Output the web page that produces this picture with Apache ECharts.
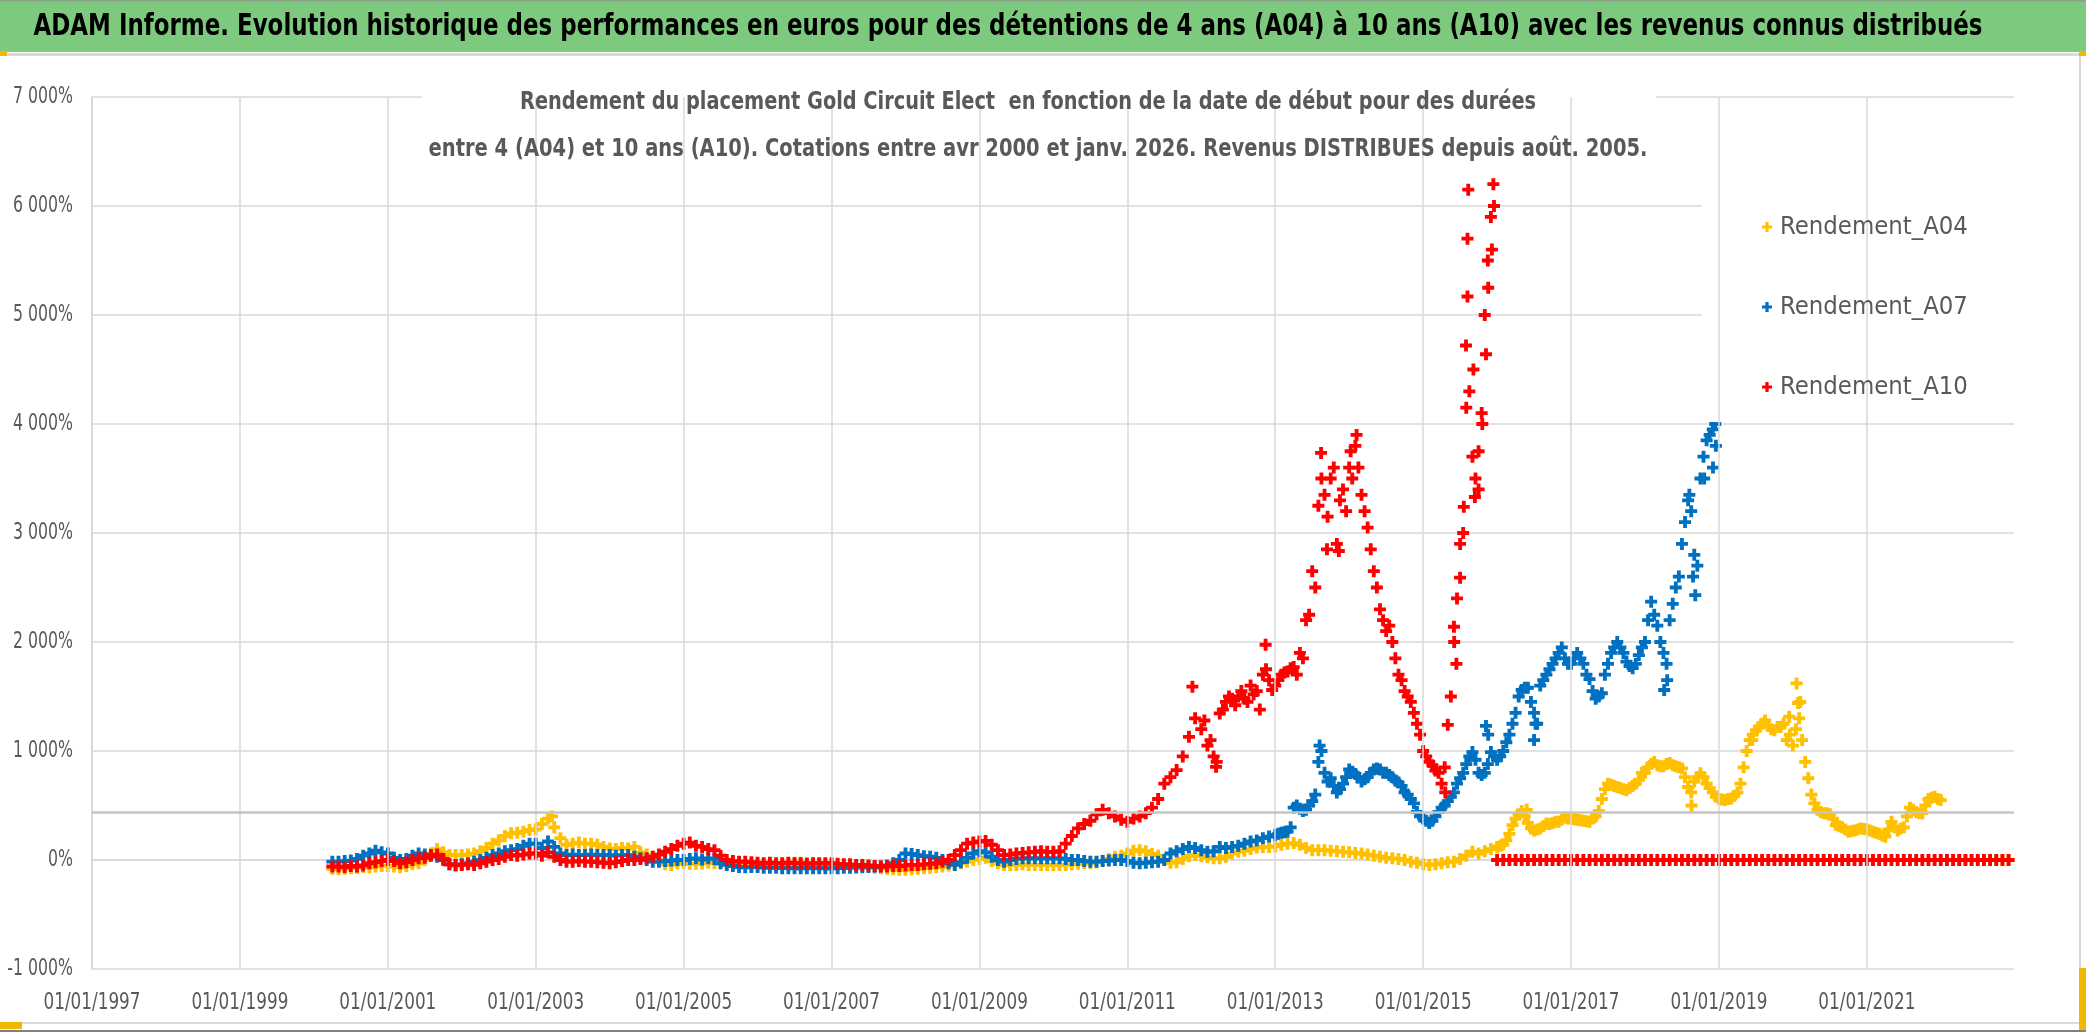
<!DOCTYPE html>
<html><head><meta charset="utf-8">
<script src="https://cdn.jsdelivr.net/npm/echarts@6/dist/echarts.min.js"></script>
<style>html,body{margin:0;padding:0;background:#fff;}#c{width:2086px;height:1032px;}</style>
</head><body><div id="c"></div>
<script>
const FONT = "'DejaVu Sans Condensed','DejaVu Sans',sans-serif";
const mainTitle = 'ADAM Informe. Evolution historique des performances en euros pour des détentions de 4 ans (A04) à 10 ans (A10) avec les revenus connus distribués';
const subTitle1 = 'Rendement du placement Gold Circuit Elect  en fonction de la date de début pour des durées';
const subTitle2 = 'entre 4 (A04) et 10 ans (A10). Cotations entre avr 2000 et janv. 2026. Revenus DISTRIBUES depuis août. 2005.';
const seriesNames = ['Rendement_A04', 'Rendement_A07', 'Rendement_A10'];
const seriesColors = ['#FFC000', '#0070C0', '#FF0000'];

// monthly readings (1st of month): first value = April 2000
const startYear = 2000, startMonth = 4;

// Rendement_A04 (%), monthly from Apr 2000
const A04 = [
  -80,-85,-80,-75,-70,-65,-67,-60,-55,
  -55,-60,-67,-55,-40,-30,0,60,100,70,45,45,
  45,50,60,80,110,150,180,220,245,250,260,275,
  280,330,380,300,200,140,150,160,150,150,140,120,
  105,100,110,105,120,70,50,30,0,-40,-45,-30,
  -30,-35,-35,-30,-25,-30,-30,-30,-30,-35,-40,-45,
  -45,-45,-40,-40,-35,-30,-25,-25,-30,-35,-40,-45,
  -45,-45,-50,-50,-55,-55,-60,-70,-75,-80,-85,-90,
  -90,-85,-80,-75,-70,-65,-60,-50,-40,-30,-15,0,
  10,20,-10,-30,-45,-45,-45,-40,-45,-45,-45,-45,
  -45,-45,-45,-40,-35,-30,-30,-20,-10,10,30,40,
  60,85,90,80,55,40,0,-25,-20,10,35,45,
  35,25,15,15,30,60,76,85,100,115,120,120,
  125,140,150,155,140,110,90,90,90,85,80,75,
  70,65,60,50,40,30,20,15,10,0,-15,-25,
  -40,-45,-40,-30,-20,-15,10,40,76,60,80,100,
  120,140,240,380,450,340,270,290,336,340,350,390,
  380,370,360,350,400,560,700,680,660,640,680,735,
  800,880,870,860,890,860,840,670,720,795,700,620,
  560,550,565,620,850,1100,1190,1250,1230,1190,1220,1100,
  1050,1300,900,600,460,430,420,320,300,260,270,290,
  280,260,240,214,350,270,300,480,440,430,560,580,
  550,0,0,0,0,0,0,0,0,0,0,0
];
// Rendement_A07 (%), monthly from Apr 2000
const A07 = [
  -15,-15,-10,-5,10,40,60,85,70,
  60,20,0,10,40,60,50,45,30,0,-40,-50,
  -40,-30,-15,0,20,45,60,80,90,100,130,150,
  150,110,170,120,60,45,50,45,45,50,45,45,
  45,40,45,45,30,15,0,-15,-15,-10,-5,0,
  0,10,15,5,15,10,-30,-45,-55,-65,-67,-65,
  -65,-70,-70,-72,-75,-75,-76,-76,-75,-76,-75,-76,
  -76,-75,-72,-70,-68,-67,-65,-62,-60,-50,-30,0,
  60,55,45,35,30,20,0,-30,-45,-20,20,60,
  80,70,30,0,-15,0,10,15,15,15,15,15,
  15,15,10,0,0,-10,-15,-15,-10,-5,0,0,
  -10,-25,-30,-25,-20,-15,0,60,80,100,120,110,
  90,75,80,120,110,120,130,150,170,180,200,215,
  230,250,260,480,470,460,540,900,800,750,620,700,
  830,790,720,760,830,830,800,760,710,620,560,440,
  380,340,400,480,540,620,750,880,990,800,800,990,
  920,1000,1150,1350,1560,1580,1350,1600,1700,1800,1900,1850,
  1800,1900,1800,1660,1480,1530,1800,1950,1950,1820,1760,1880,
  2000,2370,2150,1900,2200,2500,2900,3300,2800,3500,3850,3950
];
// Rendement_A10 (%), monthly from Apr 2000
const A10 = [
  -60,-60,-65,-55,-60,-50,-30,-20,-10,
  0,-10,-30,-20,0,15,20,40,50,10,-40,-45,
  -45,-40,-45,-30,-15,0,10,30,45,40,50,60,
  60,40,70,30,0,-15,-15,-10,-15,-15,-20,-25,
  -30,-20,-10,0,0,10,15,30,50,76,100,130,
  150,160,130,120,100,90,40,0,-10,-15,-15,-20,
  -25,-30,-25,-30,-30,-25,-30,-30,-35,-30,-30,-30,
  -30,-35,-40,-40,-45,-45,-50,-55,-60,-60,-55,-55,
  -50,-45,-45,-40,-35,-30,-15,0,45,90,150,160,
  170,175,140,90,45,50,60,65,70,75,80,75,
  75,80,150,220,290,330,360,420,460,430,400,370,
  350,380,400,430,480,560,700,760,825,950,1130,1300,
  1200,1050,950,1345,1450,1480,1500,1480,1600,1550,1700,1650,
  1600,1700,1730,1770,1900,2200,2650,3250,3350,3500,2900,3400,
  3600,3800,3350,3050,2650,2300,2100,2000,1700,1550,1450,1250,
  1000,900,820,700,1240,2140,2900,4150,3700,3750,5000,5900,
  0,0,0,0,0,0,0,0,0,0,0,0,
  0,0,0,0,0,0,0,0,0,0,0,0,
  0,0,0,0,0,0,0,0,0,0,0,0,
  0,0,0,0,0,0,0,0,0,0,0,0,
  0,0,0,0,0,0,0,0,0,0,0,0,
  0,0,0,0,0,0,0,0,0,0,0,0,
  0,0,0,0,0,0,0,0,0,0,0,0
];
// mid-month readings (15th) in the volatile stretches
const A04_midStart = 2016;  // Jan 2016 .. Dec 2021
const A04_mid = [
  130,180,320,420,400,290,280,310,330,350,370,380,
  375,365,355,380,450,650,690,670,650,660,700,800,
  850,900,860,880,870,850,760,620,760,760,660,580,
  555,560,590,700,1000,1150,1220,1280,1200,1220,1250,1150,
  1200,1100,750,520,440,430,380,310,280,265,280,285,
  270,250,225,280,300,290,400,460,430,500,570,560
];
const A07_midStart = 2013;  // Jan 2013 .. Dec 2018
const A07_mid = [
  240,255,300,500,450,500,600,1000,720,680,650,760,
  810,760,740,800,840,800,780,730,680,600,520,400,
  360,360,440,500,580,700,800,950,920,780,880,950,
  950,1080,1250,1500,1580,1450,1250,1650,1750,1850,1950,1800,
  1850,1850,1700,1550,1500,1700,1900,2000,1900,1780,1800,1950,
  2200,2250,2000,1800,2350,2600,3100,3200,2700,3700,3900,3800
];
const A10_midStart = 2012;  // Jan 2012 .. Dec 2015
const A10_mid = [
  1280,1100,900,1380,1500,1420,1550,1450,1520,1380,1750,1560,
  1650,1720,1760,1700,1850,2250,2500,3500,3150,3600,3300,3200,
  3500,3600,3200,2850,2500,2200,2150,1850,1650,1500,1350,1150,
  950,870,800,850,1500,2400,3000,4300,3500,4100,5500,6000
];
// additional scattered readings [decimal year, %]
const A04_extra = [[2003.22,400],[2016.4,460],[2018.63,500],[2019.45,1100],[2019.95,1315],[2020.05,1620],[2020.07,1440],[2020.1,1450]];
const A07_extra = [[2013.6,1050],[2015.85,1230],[2015.88,1150],[2016.5,1100],[2016.52,1250],[2018.26,1560],[2018.3,1650],[2018.6,3350],[2018.65,2600],[2018.68,2430],[2018.8,3500],[2018.92,3600],[2018.95,4000]];
const A10_extra = [[2011.88,1590],[2012.2,855],[2012.87,1975],[2013.62,3735],[2013.7,2850],[2013.86,2835],[2014.02,3750],[2014.1,3900],[2015.3,620],[2015.42,2000],[2015.45,1800],[2015.5,2590],[2015.55,3240],[2015.58,4720],[2015.6,5170],[2015.6,5700],[2015.61,6150],[2015.68,4500],[2015.7,3330],[2015.75,3400],[2015.8,4000],[2015.85,4640],[2015.88,5250],[2015.93,5600],[2015.95,6200]];

const xMin = 1997, xMax = 2022.99, xInterval = 2;
const xTickYears = [1997,1999,2001,2003,2005,2007,2009,2011,2013,2015,2017,2019,2021];
const yMin = -1000, yMax = 7000, yInterval = 1000;
const yTicks = [-1000,0,1000,2000,3000,4000,5000,6000,7000];
const axisCrossValue = 440;

function toPoints(vals, midStart, mid, extra) {
  const pts = vals.map((v, i) => [startYear + (startMonth - 1 + i) / 12, v]);
  const mids = mid.map((v, i) => [midStart + (i + 0.5) / 12, v]);
  return pts.concat(mids, extra);
}
function fmtPct(v) {
  const s = String(Math.abs(v)).replace(/\B(?=(\d{3})+(?!\d))/g, ' ');
  return (v < 0 ? '-' : '') + s + '%';
}
const mctx = document.createElement('canvas').getContext('2d');
function textW(txt, px, bold) {
  mctx.font = (bold ? 'bold ' : '') + px + 'px ' + FONT;
  return mctx.measureText(txt).width;
}
// text sizing to match the reference glyph heights and widths
const titleSize = 31, subSize = 24, axisSize = 23;
const titleScale = 1949 / textW(mainTitle, titleSize, true);
const sub1Scale = 1016 / textW(subTitle1, subSize, true);
const sub2Scale = 1219 / textW(subTitle2, subSize, true);
const legendSize = 30 * 188 / textW('Rendement_A04', 30, false);
const xLabScale = 97 / textW('01/01/1997', axisSize, false);
const yLabScale = 60 / textW('7 000%', axisSize, false);

const PLUS = 'path://M3.4,0H6.6V3.4H10V6.6H6.6V10H3.4V6.6H0V3.4H3.4Z';
const dataSets = [
  toPoints(A04, A04_midStart, A04_mid, A04_extra),
  toPoints(A07, A07_midStart, A07_mid, A07_extra),
  toPoints(A10, A10_midStart, A10_mid, A10_extra)
];

const baseGraphic = [
  {type: 'rect', z: 5, shape: {x: 0, y: 0, width: 2086, height: 52}, style: {fill: '#7DC97D'}},
  {type: 'rect', z: 5, shape: {x: 0, y: 0, width: 2086, height: 1.5}, style: {fill: '#8a9f8a'}},
  {type: 'rect', z: 5, shape: {x: 0, y: 53, width: 2086, height: 3}, style: {fill: '#d9d9d9'}},
  {type: 'rect', z: 5, shape: {x: 0, y: 51, width: 7, height: 5}, style: {fill: '#F2B700'}},
  {type: 'rect', z: 5, shape: {x: 2079, y: 51, width: 7, height: 5}, style: {fill: '#F2B700'}},
  {type: 'rect', z: 5, shape: {x: 2079, y: 56, width: 2, height: 970}, style: {fill: '#d9d9d9'}},
  {type: 'rect', z: 5, shape: {x: 0, y: 1022, width: 2086, height: 2}, style: {fill: '#d9d9d9'}},
  {type: 'rect', z: 5, shape: {x: 0, y: 1030, width: 2086, height: 2}, style: {fill: '#808080'}},
  {type: 'rect', z: 5, shape: {x: 0, y: 1022, width: 22, height: 7}, style: {fill: '#F2B700'}},
  {type: 'rect', z: 5, shape: {x: 2079, y: 968, width: 7, height: 62}, style: {fill: '#F2B700'}},
  {type: 'text', z: 6, x: 1008, y: 27, scaleX: titleScale,
    style: {text: mainTitle, fill: '#000000', fontFamily: FONT, fontWeight: 'bold', fontSize: titleSize, align: 'center', verticalAlign: 'middle'}},
  {type: 'rect', z: 5, shape: {x: 422, y: 68, width: 1234, height: 95}, style: {fill: '#ffffff'}},
  {type: 'text', z: 6, x: 1028, y: 103, scaleX: sub1Scale,
    style: {text: subTitle1, fill: '#595959', fontFamily: FONT, fontWeight: 'bold', fontSize: subSize, align: 'center', verticalAlign: 'middle'}},
  {type: 'text', z: 6, x: 1038, y: 150, scaleX: sub2Scale,
    style: {text: subTitle2, fill: '#595959', fontFamily: FONT, fontWeight: 'bold', fontSize: subSize, align: 'center', verticalAlign: 'middle'}},
  {type: 'rect', z: 5, shape: {x: 1702, y: 182, width: 340, height: 240}, style: {fill: '#ffffff'}}
];

const chart = echarts.init(document.getElementById('c'), null, {renderer: 'canvas'});
const option = {
  backgroundColor: '#ffffff',
  animation: false,
  grid: {left: 92, right: 72, top: 97, bottom: 63, outerBoundsMode: 'none', containLabel: false},
  xAxis: {
    type: 'value', min: xMin, max: xMax, interval: xInterval,
    axisLine: {show: true, lineStyle: {color: '#d9d9d9', width: 1.5}},
    axisTick: {show: false},
    splitLine: {show: false},
    axisLabel: {show: false}
  },
  yAxis: {
    type: 'value', min: yMin, max: yMax, interval: yInterval,
    axisLine: {show: true, lineStyle: {color: '#d0d0d0', width: 1.5}},
    axisTick: {show: false},
    splitLine: {show: true, lineStyle: {color: '#d9d9d9', width: 1.5}},
    axisLabel: {show: false}
  },
  legend: {
    orient: 'vertical', left: 1757, top: 205, itemGap: 46, itemWidth: 10, itemHeight: 10,
    textStyle: {color: '#595959', fontFamily: FONT, fontSize: legendSize, lineHeight: 34, padding: [0, 0, 0, 3]},
    data: seriesNames.map(n => ({name: n, icon: PLUS})),
    z: 10
  },
  graphic: baseGraphic,
  series: [
    {
      type: 'scatter', name: '_grid', data: [], z: 1, silent: true,
      markLine: {
        silent: true, symbol: 'none', label: {show: false}, animation: false,
        data: xTickYears.map(y => ({xAxis: y, lineStyle: {color: '#d9d9d9', width: 1.5, type: 'solid'}}))
          .concat([{yAxis: axisCrossValue, lineStyle: {color: '#c4c4c4', width: 2.5, type: 'solid'}}])
      }
    }
  ].concat(seriesNames.map((n, i) => ({
    type: 'scatter', name: n, data: dataSets[i], z: 2,
    symbol: PLUS, symbolSize: 12,
    itemStyle: {color: seriesColors[i], opacity: 1},
    large: false
  })))
};
chart.setOption(option);

// axis tick labels placed through the chart's own scales
const labelGraphic = [];
xTickYears.forEach(yr => {
  const p = chart.convertToPixel({gridIndex: 0}, [yr, yMin]);
  labelGraphic.push({type: 'text', z: 6, x: p[0], y: p[1] + 34, scaleX: xLabScale,
    style: {text: '01/01/' + yr, fill: '#595959', fontFamily: FONT, fontSize: axisSize, align: 'center', verticalAlign: 'middle'}});
});
yTicks.forEach(v => {
  const p = chart.convertToPixel({gridIndex: 0}, [xMin, v]);
  labelGraphic.push({type: 'text', z: 6, x: p[0] - 19, y: p[1], scaleX: yLabScale,
    style: {text: fmtPct(v), fill: '#595959', fontFamily: FONT, fontSize: axisSize, align: 'right', verticalAlign: 'middle'}});
});
chart.setOption({graphic: baseGraphic.concat(labelGraphic)});
</script></body></html>
